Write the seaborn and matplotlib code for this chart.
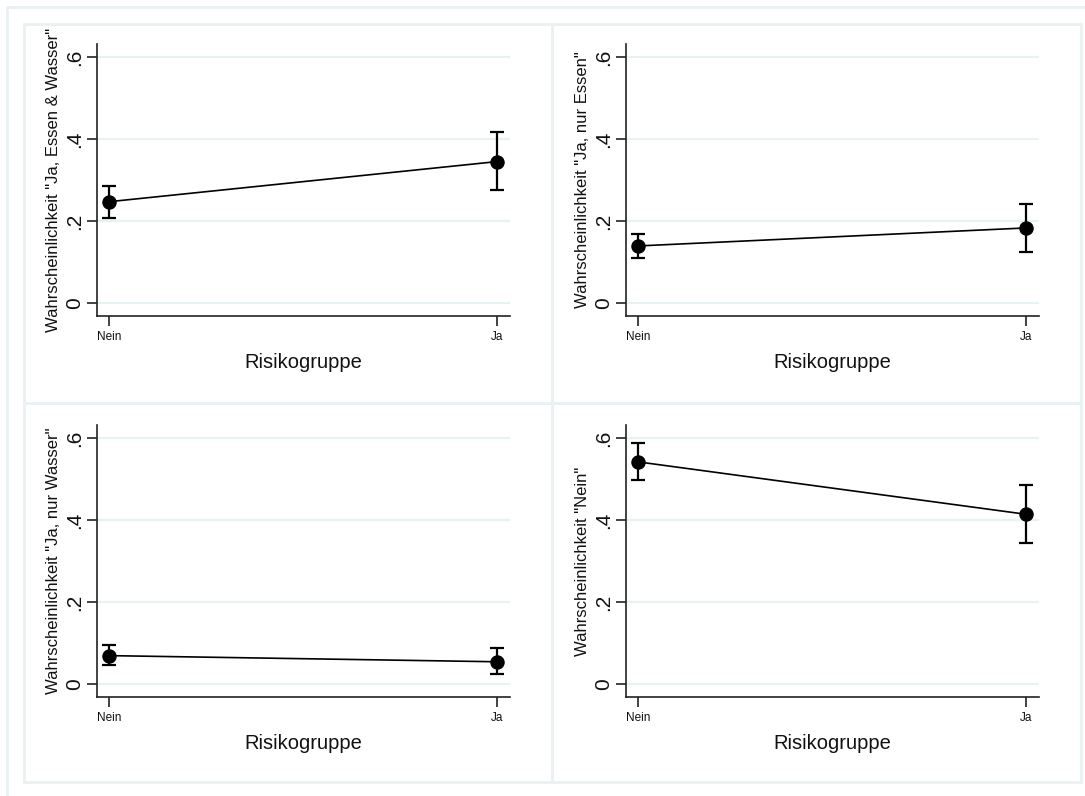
import matplotlib
matplotlib.use("Agg")
import matplotlib.pyplot as plt
import matplotlib.patches as patches
import numpy as np
import pandas as pd
import seaborn as sns

sns.set_theme(style="white")
plt.rcParams['font.family'] = ['Liberation Sans', 'DejaVu Sans']
plt.rcParams['text.color'] = '#111111'
plt.rcParams['axes.labelcolor'] = '#111111'
plt.rcParams['xtick.color'] = '#111111'
plt.rcParams['ytick.color'] = '#111111'

# Daten
gruppen = ["Nein", "Ja"]
ylabels = ['Wahrscheinlichkeit "Ja, Essen & Wasser"',
           'Wahrscheinlichkeit "Ja, nur Essen"',
           'Wahrscheinlichkeit "Ja, nur Wasser"',
           'Wahrscheinlichkeit "Nein"']
essen_wasser = [0.247, 0.345]
essen_wasser_lo = [0.208, 0.275]
essen_wasser_hi = [0.286, 0.417]
nur_essen = [0.139, 0.183]
nur_essen_lo = [0.110, 0.124]
nur_essen_hi = [0.168, 0.241]
nur_wasser = [0.069, 0.054]
nur_wasser_lo = [0.046, 0.023]
nur_wasser_hi = [0.095, 0.087]
nein = [0.542, 0.414]
nein_lo = [0.497, 0.345]
nein_hi = [0.587, 0.485]

panels = [(essen_wasser, essen_wasser_lo, essen_wasser_hi),
          (nur_essen, nur_essen_lo, nur_essen_hi),
          (nur_wasser, nur_wasser_lo, nur_wasser_hi),
          (nein, nein_lo, nein_hi)]

W, H = 1085, 796
fig = plt.figure(figsize=(W / 100, H / 100), dpi=100)
frame_col = "#eaf1f2"
grid_col = "#e8f1f3"

# Rahmen (Stata-Stil)
fig.add_artist(plt.Line2D([7 / W, 7 / W], [0, 1 - 7 / H], color=frame_col, lw=2, transform=fig.transFigure))
fig.add_artist(plt.Line2D([7 / W, 1], [1 - 7 / H, 1 - 7 / H], color=frame_col, lw=2, transform=fig.transFigure))
boxes = [(24, 24, 552, 403), (552, 24, 1081, 403), (24, 403, 552, 782), (552, 403, 1081, 782)]
for x0, y0, x1, y1 in boxes:
    fig.add_artist(patches.Rectangle((x0 / W, 1 - y1 / H), (x1 - x0) / W, (y1 - y0) / H,
                                     fill=False, edgecolor=frame_col, lw=2, transform=fig.transFigure))

axpos = [(97, 44), (626, 44), (97, 425), (626, 425)]
aw, ah = 413, 272

for i, (vals, lo, hi) in enumerate(panels):
    left, top = axpos[i]
    ax = fig.add_axes([left / W, 1 - (top + ah) / H, aw / W, ah / H])
    df = pd.DataFrame({"Risikogruppe": gruppen, "p": vals})
    for yv in [0, 0.2, 0.4, 0.6]:
        ax.axhline(yv, color=grid_col, lw=1.5, zorder=0)
    ax.errorbar([0, 1], vals,
                yerr=[np.array(vals) - np.array(lo), np.array(hi) - np.array(vals)],
                fmt='none', ecolor='black', elinewidth=1.6, capsize=5, capthick=1.6, zorder=2)
    sns.pointplot(data=df, x="Risikogruppe", y="p", order=gruppen, color="black",
                  errorbar=None, markers="o", markersize=9.5, linewidth=1.2, ax=ax, zorder=3)
    ax.set_xlim(-0.031, 1.033)
    ax.set_ylim(-0.032, 0.632)
    ax.set_yticks([0, 0.2, 0.4, 0.6])
    ax.set_yticklabels(["0", ".2", ".4", ".6"], rotation=90, va="center", fontsize=15)
    ax.set_xticks([0, 1])
    ax.set_xticklabels(gruppen, fontsize=8.5)
    ax.set_xlabel("Risikogruppe", fontsize=14.5, labelpad=7)
    ax.set_ylabel(ylabels[i], fontsize=12, labelpad=3)
    for s in ["top", "right"]:
        ax.spines[s].set_visible(False)
    for s in ["left", "bottom"]:
        ax.spines[s].set_color("#222222")
        ax.spines[s].set_linewidth(1.2)
    ax.tick_params(axis="both", which="both", length=7, width=1.2, color="#222222",
                   left=True, bottom=True)
    ax.tick_params(axis="y", pad=2)
    ax.tick_params(axis="x", pad=4)
    ax.grid(False)

fig.savefig("out.png", dpi=100, facecolor="white")
